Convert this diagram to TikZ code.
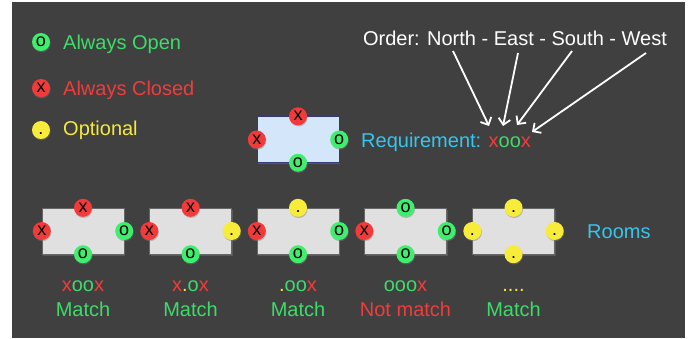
\documentclass[tikz,border=0pt]{standalone}
\usepackage{fontspec}
\setmainfont{Liberation Sans}
\usetikzlibrary{shadows,arrows.meta}
\definecolor{bg}{HTML}{404040}
\definecolor{cgreen}{HTML}{3DDC6A}
\definecolor{cred}{HTML}{F03C3C}
\definecolor{cyel}{HTML}{F5E93A}
\definecolor{ccyan}{HTML}{35C6EE}
\definecolor{mgreen}{HTML}{40EE6E}
\definecolor{mred}{HTML}{F23A3A}
\definecolor{myel}{HTML}{F8EC3A}
\definecolor{roomfill}{HTML}{E0E0E0}
\definecolor{reqfill}{HTML}{D3E6FA}
\begin{document}
\begin{tikzpicture}[x=1pt,y=-1pt,
  mk/.style={circle, minimum size=18pt, inner sep=0pt, font=\fontsize{18}{18}\selectfont,
    text height=9.3pt, text depth=0pt, text=black,
    drop shadow={opacity=0.45, shadow xshift=0.6pt, shadow yshift=-1.2pt}},
  mo/.style={mk, fill=mgreen},
  mx/.style={mk, fill=mred},
  md/.style={mk, fill=myel},
  lbl/.style={font=\fontsize{20}{24}\selectfont, inner sep=0pt},
  room/.style={draw=gray!80!black, fill=roomfill, minimum width=82pt, minimum height=46pt,
    inner sep=0pt, drop shadow={opacity=0.4, shadow xshift=1pt, shadow yshift=-1.5pt}},
  reqbox/.style={room, draw=gray!60!blue!70!black, fill=reqfill},
  arr/.style={white, line width=1.8pt, -{Straight Barb[length=6pt,width=12pt]}}
]
\useasboundingbox (0,0) rectangle (690,338);
\fill[bg] (12,2) rectangle (685,338);

% legend
\node[mo] (lo) at (41,42) {o};
\node[mx] (lx) at (41,88) {x};
\node[md] (ld) at (41,130) {.};
\node[lbl, anchor=base west, text=cgreen] (to) at (63,49) {Always Open};
\node[lbl, anchor=base west, text=cred] (tx) at (63,95) {Always Closed};
\node[lbl, anchor=base west, text=cyel] (td) at (63,135) {Optional};

% order title and arrows
\node[lbl, anchor=base, text=white] (order) at (515,45.5) {Order: North - East - South - West};
\coordinate (s1) at (453,51);
\coordinate (s2) at (518,53);
\coordinate (s3) at (572,51);
\coordinate (s4) at (646,53);
\coordinate (e1) at (489,126);
\coordinate (e2) at (503,126);
\coordinate (e3) at (517,125);
\coordinate (e4) at (532,132);
\draw[arr] (s1) -- (e1);
\draw[arr] (s2) -- (e2);
\draw[arr] (s3) -- (e3);
\draw[arr] (s4) -- (e4);

% requirement
\node[reqbox] (req) at (298,139.5) {};
\node[mx] (reqN) at (req.north) {x};
\node[mo] (reqE) at (req.east) {o};
\node[mo] (reqS) at (req.south) {o};
\node[mx] (reqW) at (req.west) {x};
\node[lbl, anchor=base west, text=ccyan] (reqt) at (361,147)
  {Requirement: \textcolor{cred}{x}\textcolor{cgreen}{oo}\textcolor{cred}{x}};

% rooms
\node[room] (r1) at (83,231) {};
\node[mx] (r1N) at (r1.north) {x};
\node[mo] (r1E) at (r1.east) {o};
\node[mo] (r1S) at (r1.south) {o};
\node[mx] (r1W) at (r1.west) {x};

\node[room] (r2) at (190.5,231) {};
\node[mx] (r2N) at (r2.north) {x};
\node[md] (r2E) at (r2.east) {.};
\node[mo] (r2S) at (r2.south) {o};
\node[mx] (r2W) at (r2.west) {x};

\node[room] (r3) at (298,231) {};
\node[md] (r3N) at (r3.north) {.};
\node[mo] (r3E) at (r3.east) {o};
\node[mo] (r3S) at (r3.south) {o};
\node[mx] (r3W) at (r3.west) {x};

\node[room] (r4) at (405.5,231) {};
\node[mo] (r4N) at (r4.north) {o};
\node[mo] (r4E) at (r4.east) {o};
\node[mo] (r4S) at (r4.south) {o};
\node[mx] (r4W) at (r4.west) {x};

\node[room] (r5) at (513.5,231) {};
\node[md] (r5N) at (r5.north) {.};
\node[md] (r5E) at (r5.east) {.};
\node[md] (r5S) at (r5.south) {.};
\node[md] (r5W) at (r5.west) {.};

\node[lbl, anchor=base west, text=ccyan] (rooms) at (587,238.5) {Rooms};

% codes
\node[lbl, anchor=base] (c1) at (83,291) {\textcolor{cred}{x}\textcolor{cgreen}{oo}\textcolor{cred}{x}};
\node[lbl, anchor=base] (c2) at (190.5,291) {\textcolor{cred}{x}\textcolor{cyel}{.}\textcolor{cgreen}{o}\textcolor{cred}{x}};
\node[lbl, anchor=base] (c3) at (298,291) {\textcolor{cyel}{.}\textcolor{cgreen}{oo}\textcolor{cred}{x}};
\node[lbl, anchor=base] (c4) at (405.5,291) {\textcolor{cgreen}{ooo}\textcolor{cred}{x}};
\node[lbl, anchor=base] (c5) at (513.5,291) {\textcolor{cyel}{....}};

% results
\node[lbl, anchor=base, text=cgreen] (m1) at (83,316) {Match};
\node[lbl, anchor=base, text=cgreen] (m2) at (190.5,316) {Match};
\node[lbl, anchor=base, text=cgreen] (m3) at (298,316) {Match};
\node[lbl, anchor=base, text=cred] (m4) at (405.5,316) {Not match};
\node[lbl, anchor=base, text=cgreen] (m5) at (513.5,316) {Match};
\end{tikzpicture}
\end{document}
